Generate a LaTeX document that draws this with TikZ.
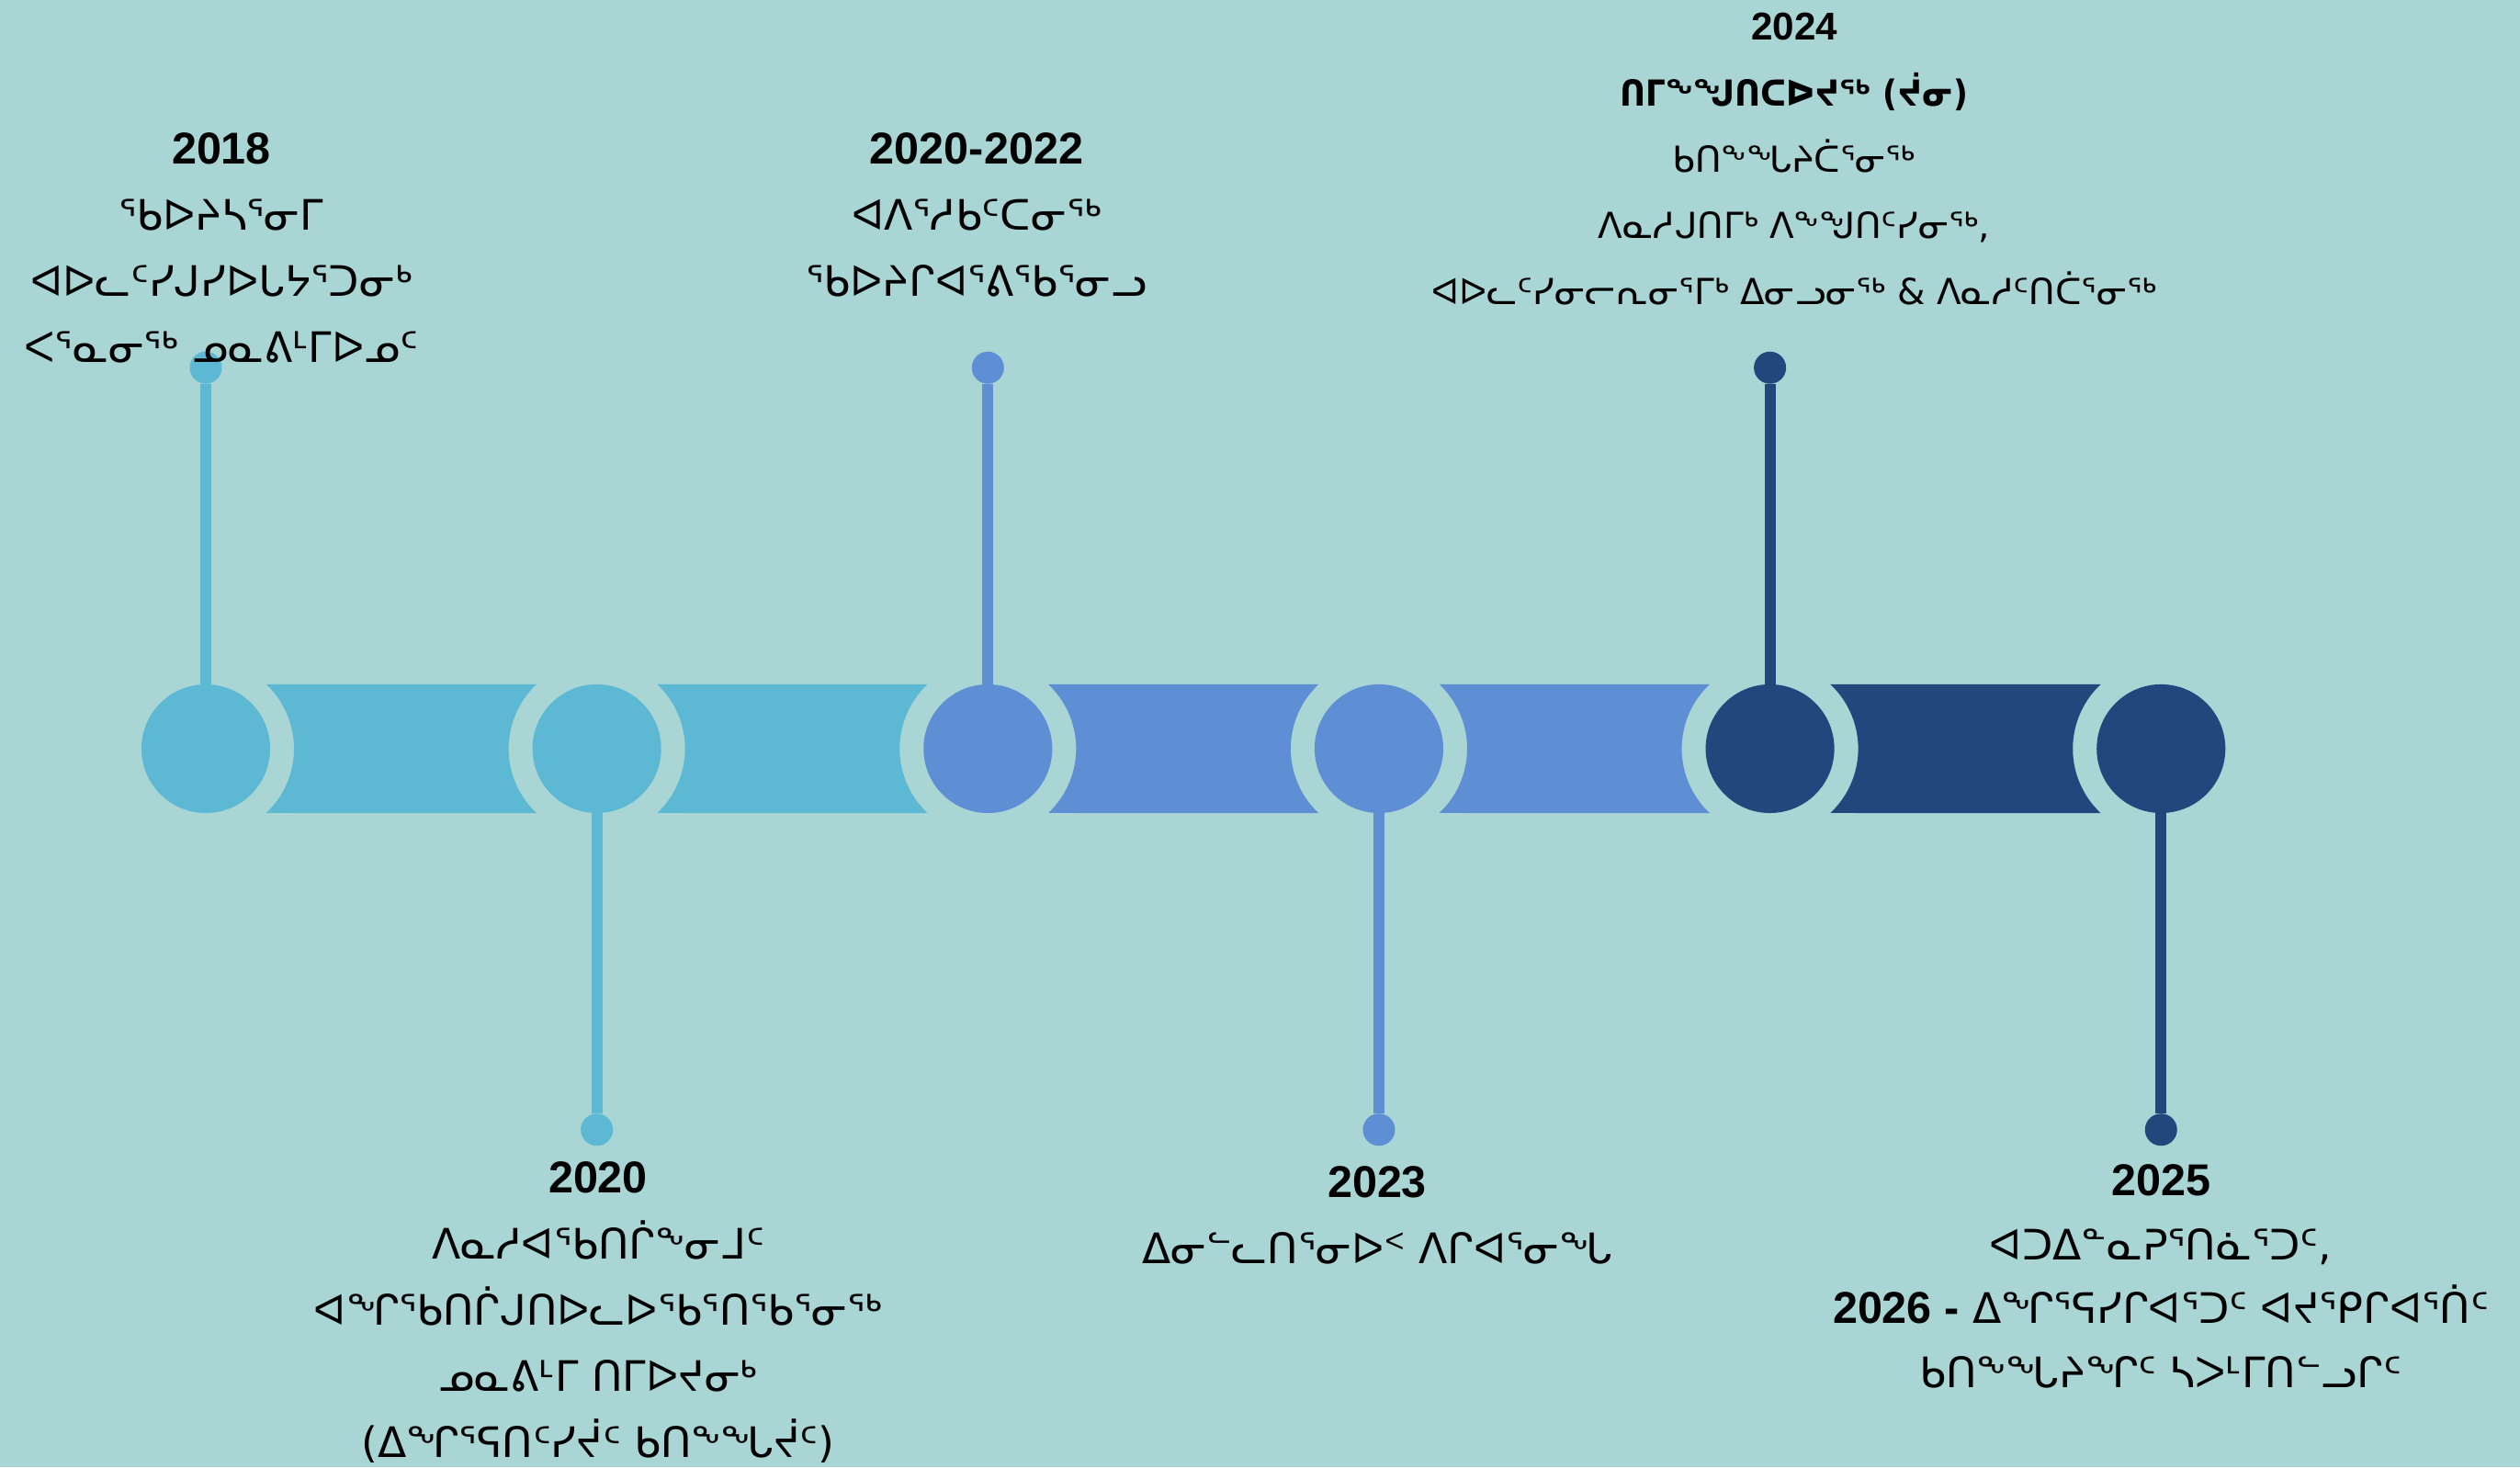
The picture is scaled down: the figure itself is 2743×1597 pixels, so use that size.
\documentclass[tikz,border=0pt]{standalone}
\usepackage{fontspec}
\setmainfont{DejaVu Sans}
\newfontfamily\sylfont{DejaVu Sans}
\newfontfamily\sylbold[FakeStretch=0.89]{DejaVu Sans}
\newfontfamily\yearfont{Liberation Sans}
\usetikzlibrary{positioning,calc}

\definecolor{bgteal}{RGB}{169,214,212}
\definecolor{skyblue}{RGB}{93,185,211}
\definecolor{midblue}{RGB}{94,142,211}
\definecolor{navyblue}{RGB}{35,70,125}

\newcommand{\yr}[2][13.8pt]{{\yearfont\bfseries\fontsize{#1}{20.5pt}\selectfont #2}}

\begin{document}
\begin{tikzpicture}[
    x=0.01cm, y=0.01cm,
    node distance=2.854cm,
    hub/.style={circle, minimum size=1.4cm, inner sep=0pt, outer sep=0pt},
    tipdot/.style={circle, minimum size=0.35cm, inner sep=0pt, outer sep=0pt},
    stem/.style={line width=0.12cm},
    note/.style={align=center, inner sep=0pt, anchor=north, font=\sylfont\fontsize{13pt}{20.5pt}\selectfont},
    smallnote/.style={note, font=\sylfont\fontsize{11.1pt}{20.5pt}\selectfont}
]
    \fill[bgteal] (0,0) rectangle (2743,1597);
    \useasboundingbox (0,0) rectangle (2743,1597);

    % the six year stops
    \node [hub, fill=skyblue] (c2018) at (224,782) {};
    \node [hub, fill=skyblue, right=of c2018] (c2020) {};
    \node [hub, fill=midblue, right=of c2020] (c2022) {};
    \node [hub, fill=midblue, right=of c2022] (c2023) {};
    \node [hub, fill=navyblue, right=of c2023] (c2024) {};
    \node [hub, fill=navyblue, right=of c2024] (c2025) {};

    % bands between the stops
    \foreach \a/\b/\col in {c2018/c2020/skyblue, c2020/c2022/skyblue, c2022/c2023/midblue, c2023/c2024/midblue, c2024/c2025/navyblue}
        \fill [\col] ($(\a)+(65.7,70)$) -- ($(\b)+(-65.7,70)$)
            arc [start angle=133.18, end angle=226.82, radius=0.96cm]
            -- ($(\a)+(65.7,-70)$)
            arc [start angle=-46.82, end angle=46.82, radius=0.96cm] -- cycle;

    % pins
    \node [tipdot, fill=skyblue, above=3.27cm of c2018] (d2018) {};
    \node [tipdot, fill=skyblue, below=3.27cm of c2020] (d2020) {};
    \node [tipdot, fill=midblue, above=3.27cm of c2022] (d2022) {};
    \node [tipdot, fill=midblue, below=3.27cm of c2023] (d2023) {};
    \node [tipdot, fill=navyblue, above=3.27cm of c2024] (d2024) {};
    \node [tipdot, fill=navyblue, below=3.27cm of c2025] (d2025) {};

    \draw [stem, skyblue] (c2018) -- (d2018);
    \draw [stem, skyblue] (c2020) -- (d2020);
    \draw [stem, midblue] (c2022) -- (d2022);
    \draw [stem, midblue] (c2023) -- (d2023);
    \draw [stem, navyblue] (c2024) -- (d2024);
    \draw [stem, navyblue] (c2025) -- (d2025);

    % texts
    \node [note] (t2018) at (241,1453) {\yr{2018}\\ᖃᐅᔨᓴᕐᓂᒥ\\ᐊᐅᓚᑦᓯᒍᓯᐅᒐᔭᕐᑐᓂᒃ\\ᐸᕐᓇᓂᖅ ᓄᓇᕕᒻᒥᐅᓄᑦ};
    \node [note] (t2022) at (1063,1453) {\yr{2020-2022}\\ᐊᐱᕐᓱᑲᑦᑕᓂᖅ\\ᖃᐅᔨᒋᐊᕐᕕᖃᕐᓂᓗ};
    \node [smallnote] (t2024) at (1953,1584) {\yr[12pt]{2024}\\{\sylbold\bfseries ᑎᒥᖕᖑᑎᑕᐅᔪᖅ (ᔫᓂ)}\\ᑲᑎᖕᖓᔨᑖᕐᓂᖅ\\ᐱᓇᓱᒍᑎᒥᒃ ᐱᖕᖑᑎᑦᓯᓂᖅ,\\ᐊᐅᓚᑦᓯᓂᓕᕆᓂᕐᒥᒃ ᐃᓂᓗᓂᖅ \& ᐱᓇᓱᑦᑎᑖᕐᓂᖅ};
    \node [note] (t2020) at (651,333) {\yr{2020}\\ᐱᓇᓱᐊᖃᑎᒌᖕᓂᒧᑦ\\ᐊᖏᖃᑎᒌᒍᑎᐅᓚᐅᖃᕐᑎᖃᕐᓂᖅ\\ᓄᓇᕕᒻᒥ ᑎᒥᐅᔪᓂᒃ\\(ᐃᖏᕐᕋᑎᑦᓯᔫᑦ ᑲᑎᖕᖓᔫᑦ)};
    \node [note] (t2023) at (1499,328) {\yr{2023}\\ᐃᓂᓪᓚᑎᕐᓂᐅᑉ ᐱᒋᐊᕐᓂᖓ};
    \node [note, font=\sylfont\fontsize{13pt}{19.8pt}\selectfont] (t2025) at (2352,330) {\yr{2025}\\ᐊᑐᐃᓐᓇᕈᕐᑎᓈᕐᑐᑦ,\\\yr{2026 -} ᐃᖏᕐᕋᓯᒋᐊᕐᑐᑦ ᐊᔪᕿᒋᐊᕐᑏᑦ\\ᑲᑎᖕᖓᔨᖏᑦ ᓴᐳᒻᒥᑎᓪᓗᒋᑦ};
\end{tikzpicture}
\end{document}
